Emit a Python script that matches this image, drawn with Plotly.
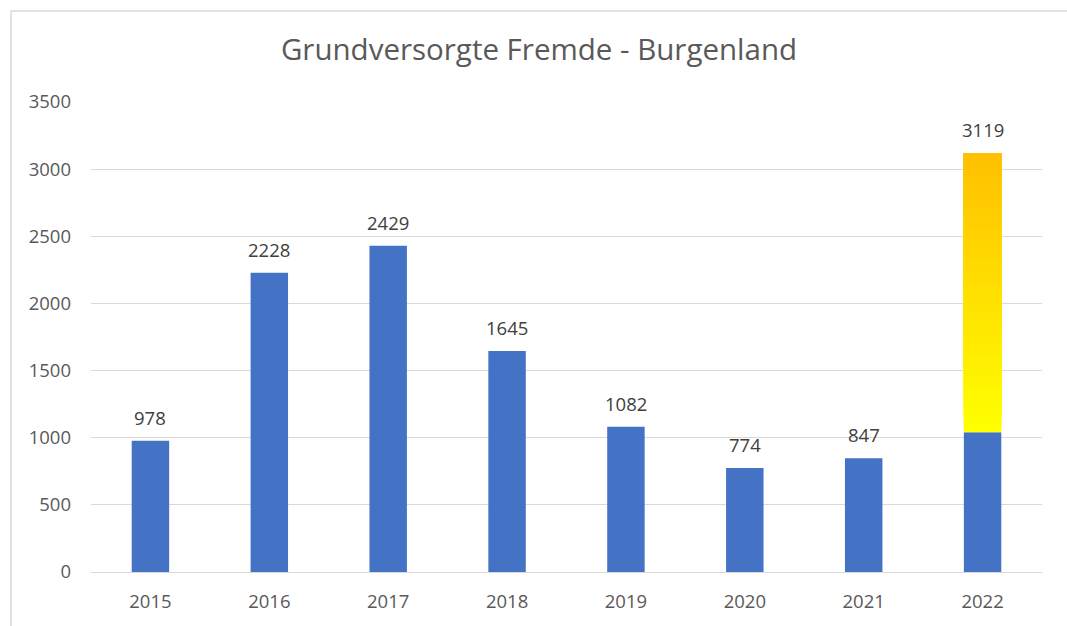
import plotly.graph_objects as go

years = ["2015", "2016", "2017", "2018", "2019", "2020", "2021", "2022"]
values = [978, 2228, 2429, 1645, 1082, 774, 847, 3119]
# 2022 bar: lower part blue, upper part gradient yellow -> orange
blue_part_2022 = 1040
y_ticks = [0, 500, 1000, 1500, 2000, 2500, 3000, 3500]

BLUE = "#4472C4"
GRAD_BOTTOM = (255, 255, 0)
GRAD_TOP = (255, 192, 0)
TEXT = "#595959"
LABEL = "#404040"
GRID = "#D9D9D9"
FONT = "Open Sans"

fig = go.Figure()

blue_vals = values[:-1] + [blue_part_2022]
fig.add_trace(go.Bar(x=years, y=blue_vals, marker=dict(color=BLUE, line=dict(width=0)),
                     hoverinfo="x+y", showlegend=False))

# gradient for the top part of 2022 bar (overlaid segments, no seams)
n = 90
last = years[-1]
top = values[-1]
for i in range(n):
    b = blue_part_2022 + (top - blue_part_2022) * i / n
    t = i / (n - 1)
    c = tuple(round(GRAD_BOTTOM[k] + (GRAD_TOP[k] - GRAD_BOTTOM[k]) * t) for k in range(3))
    fig.add_trace(go.Bar(x=[last], y=[top - b], base=[b],
                         marker=dict(color="rgb(%d,%d,%d)" % c, line=dict(width=0)),
                         hoverinfo="skip", showlegend=False))

for idx, v in enumerate(values):
    fig.add_annotation(x=idx, y=v, text=str(v), showarrow=False, yanchor="bottom",
                       yshift=9, font=dict(family=FONT, size=18.5, color=LABEL))

fig.update_layout(
    width=1067, height=626,
    margin=dict(l=91, r=25, t=102, b=54),
    paper_bgcolor="white", plot_bgcolor="white",
    barmode="overlay", bargap=0.685,
    font=dict(family=FONT, size=18, color=TEXT),
    title=dict(text="Grundversorgte Fremde - Burgenland", x=539 / 1067, xanchor="center",
               y=1 - 50 / 626, yanchor="middle",
               font=dict(family=FONT, size=29.5, color=TEXT)),
    xaxis=dict(type="category", categoryorder="array", categoryarray=years,
               range=[-0.5, len(years) - 0.5],
               showgrid=False, showline=True, linecolor=GRID, linewidth=1,
               ticks="", tickfont=dict(family=FONT, size=18.5, color=TEXT), ticklabelstandoff=13),
    yaxis=dict(range=[0, 3500], tickvals=y_ticks, showgrid=True, gridcolor=GRID, gridwidth=1,
               zeroline=False, showline=False, ticks="",
               tickfont=dict(family=FONT, size=18.5, color=TEXT), ticklabelstandoff=19),
    shapes=[dict(type="rect", xref="paper", yref="paper",
                 x0=(11 - 91) / 951, x1=(1075 - 91) / 951,
                 y0=(572 - 640) / 470, y1=(572 - 11) / 470,
                 line=dict(color="#D9D9D9", width=1.5), fillcolor="rgba(0,0,0,0)", layer="below")],
)

fig.write_html("out.html", config={"displayModeBar": False},
               post_script="document.body.style.margin='0';")
